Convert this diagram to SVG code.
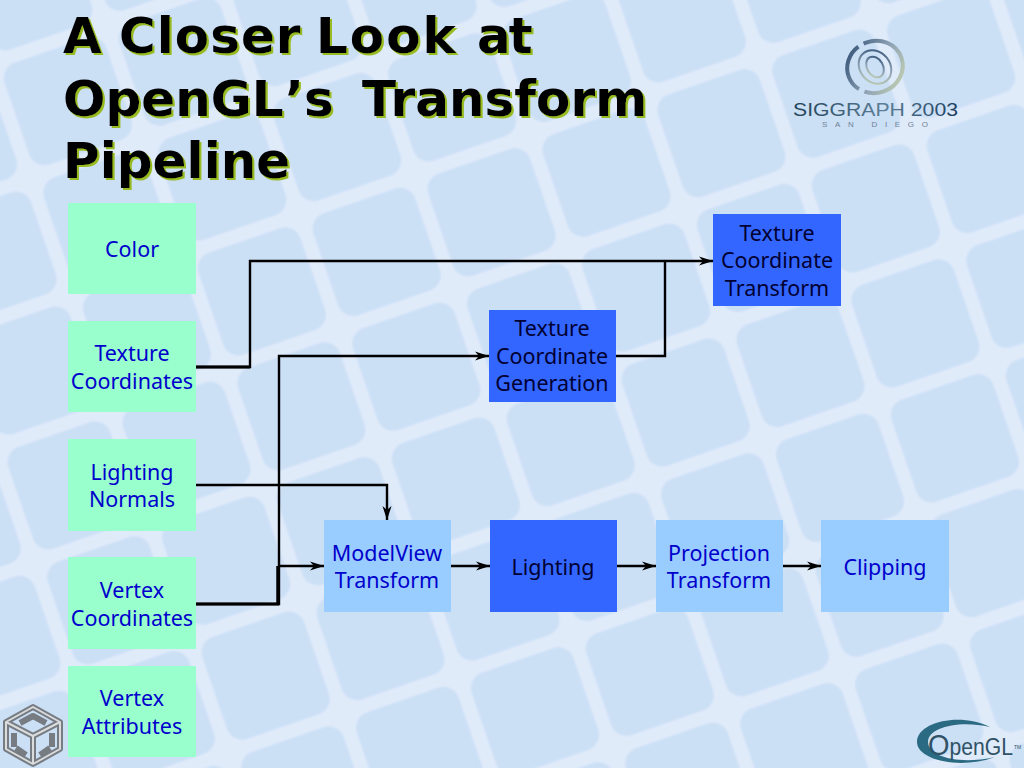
<svg xmlns="http://www.w3.org/2000/svg" width="1024" height="768" viewBox="0 0 1024 768">
<style>
.lbl{font-family:"Noto Sans",sans-serif;font-size:21.5px;text-anchor:middle;fill:#0000cc}
.dk{fill:#000033}
.g{fill:#99ffcc}.l{fill:#99ccff}.d{fill:#3366ff}
.title{font-family:"DejaVu Sans",sans-serif;font-weight:bold;font-size:50px;fill:#000}
.c{fill:none;stroke:#000;stroke-width:2.4}
</style>
<defs>
<filter id="soft" x="-5%" y="-5%" width="110%" height="110%"><feGaussianBlur stdDeviation="1"/></filter>
<pattern id="tiles" width="121.5" height="121.5" patternUnits="userSpaceOnUse" patternTransform="translate(105.5 24) rotate(-19)">
<rect width="121.5" height="121.5" fill="#e0ebfa"/>
<rect x="7" y="7" width="107.5" height="107.5" rx="16" fill="#cbdff5" filter="url(#soft)"/>
</pattern>
<filter id="sh" x="-5%" y="-5%" width="110%" height="110%"><feDropShadow dx="2" dy="2" stdDeviation="0" flood-color="#99bb22"/></filter>
<marker id="ah" markerUnits="userSpaceOnUse" markerWidth="15" markerHeight="11" refX="14" refY="5.5" orient="auto"><path d="M0 1L14 5.5L0 10L4 5.5Z" fill="#000"/></marker>
<linearGradient id="sg" x1="0" x2="1" y1="0" y2="1"><stop offset="0" stop-color="#2b4a70"/><stop offset=".55" stop-color="#8fa3b5"/><stop offset="1" stop-color="#c9d6b0"/></linearGradient>
<linearGradient id="st" x1="0" x2="1" y1="0" y2="0"><stop offset="0" stop-color="#1f4055"/><stop offset=".55" stop-color="#5d7f97"/><stop offset="1" stop-color="#1c3d5c"/></linearGradient>
</defs>
<rect id="background" width="1024" height="768" fill="url(#tiles)"/>
<g id="title" class="title" filter="url(#sh)">
<text y="53"><tspan x="63">A</tspan> <tspan x="119" letter-spacing="1">Closer</tspan> <tspan x="316" letter-spacing="2">Look</tspan> <tspan x="477" letter-spacing="-2">at</tspan></text>
<text y="116"><tspan x="63">OpenGL</tspan><tspan x="285">’s</tspan> <tspan x="362">Transform</tspan></text>
<text x="63" y="178">Pipeline</text>
</g>
<g id="logo-siggraph">
<ellipse cx="875" cy="67" rx="28" ry="26" fill="none" stroke="url(#sg)" stroke-width="4" stroke-dasharray="62 6 50 6" transform="rotate(-20 875 67)"/>
<ellipse cx="875" cy="67" rx="18" ry="15" fill="none" stroke="url(#sg)" stroke-width="2" transform="rotate(50 875 67)"/>
<ellipse cx="875" cy="67" rx="11" ry="8" fill="none" stroke="url(#sg)" stroke-width="2" transform="rotate(60 875 67)"/>
<text x="793" y="116" font-family="'Liberation Sans',sans-serif" font-size="18" textLength="165" lengthAdjust="spacingAndGlyphs" fill="url(#st)">SIGGRAPH 2003</text>
<text x="822" y="127" font-family="'Liberation Sans',sans-serif" font-size="8" textLength="106" fill="#6d8296">SAN DIEGO</text>
</g>
<g id="logo-sgi" fill="none" stroke-linejoin="round">
<g stroke="#777c82" stroke-width="6">
<path d="M33 707L60 722V749L33 764L6 749V722Z"/>
<path d="M33 736V764M33 736L6 722M33 736L60 722"/>
<path d="M20 723L33 716L46 723M14 733V747M52 733V747M26 755L16 748M40 755L50 748"/>
</g>
<g stroke="#d9dbdd" stroke-width="2">
<path d="M33 707L60 722V749L33 764L6 749V722Z"/>
<path d="M33 736V764M33 736L6 722M33 736L60 722"/>
</g>
</g>
<g id="logo-opengl">
<path d="M990 727C960 712 917 722 917 742C917 760 960 770 995 757C960 765 928 757 928 742C928 727 960 720 990 727Z" fill="#2a6a82"/>
<text x="928" y="755" font-family="'Liberation Sans',sans-serif" font-size="23" textLength="85" lengthAdjust="spacingAndGlyphs" fill="#2f5266"><tspan font-size="30">O</tspan>penGL</text>
<text x="1014" y="749" font-family="'Liberation Sans',sans-serif" font-size="5" fill="#2f5266">TM</text>
</g>
<g id="connectors" class="c">
<path d="M196 367H250V261H713" marker-end="url(#ah)"/>
<path d="M196 367H250" stroke-width="3"/>
<path d="M616 356H665V261"/>
<path d="M196 604H279V356H489" marker-end="url(#ah)"/>
<path d="M196 604H279" stroke-width="3"/>
<path d="M278 604V566" stroke-width="3.5"/>
<path d="M278 566H324" marker-end="url(#ah)"/>
<path d="M196 485H387V520" marker-end="url(#ah)"/>
<path d="M451 566H490" marker-end="url(#ah)"/>
<path d="M617 566H656" marker-end="url(#ah)"/>
<path d="M783 566H821" marker-end="url(#ah)"/>
</g>
<g id="n-color"><rect class="g" x="68" y="203" width="128" height="91"/><text class="lbl" x="132" y="257">Color</text></g>
<g id="n-texcoords"><rect class="g" x="68" y="321" width="128" height="91"/><text class="lbl" x="132" y="361">Texture</text><text class="lbl" x="132" y="389">Coordinates</text></g>
<g id="n-normals"><rect class="g" x="68" y="439" width="128" height="92"/><text class="lbl" x="132" y="480">Lighting</text><text class="lbl" x="132" y="507">Normals</text></g>
<g id="n-vertex"><rect class="g" x="68" y="557" width="128" height="92"/><text class="lbl" x="132" y="598">Vertex</text><text class="lbl" x="132" y="626">Coordinates</text></g>
<g id="n-attrib"><rect class="g" x="68" y="666" width="128" height="91"/><text class="lbl" x="132" y="706">Vertex</text><text class="lbl" x="132" y="734">Attributes</text></g>
<g id="n-modelview"><rect class="l" x="324" y="520" width="127" height="92"/><text class="lbl" x="387" y="561">ModelView</text><text class="lbl" x="387" y="588">Transform</text></g>
<g id="n-lighting"><rect class="d" x="490" y="520" width="127" height="92"/><text class="lbl dk" x="553" y="575">Lighting</text></g>
<g id="n-projection"><rect class="l" x="656" y="520" width="127" height="92"/><text class="lbl" x="719" y="561">Projection</text><text class="lbl" x="719" y="588">Transform</text></g>
<g id="n-clipping"><rect class="l" x="821" y="520" width="128" height="92"/><text class="lbl" x="885" y="575">Clipping</text></g>
<g id="n-texgen"><rect class="d" x="489" y="310" width="127" height="92"/><text class="lbl dk" x="552" y="336">Texture</text><text class="lbl dk" x="552" y="364">Coordinate</text><text class="lbl dk" x="552" y="391">Generation</text></g>
<g id="n-textrans"><rect class="d" x="713" y="214" width="128" height="92"/><text class="lbl dk" x="777" y="241">Texture</text><text class="lbl dk" x="777" y="268">Coordinate</text><text class="lbl dk" x="777" y="296">Transform</text></g>
</svg>
